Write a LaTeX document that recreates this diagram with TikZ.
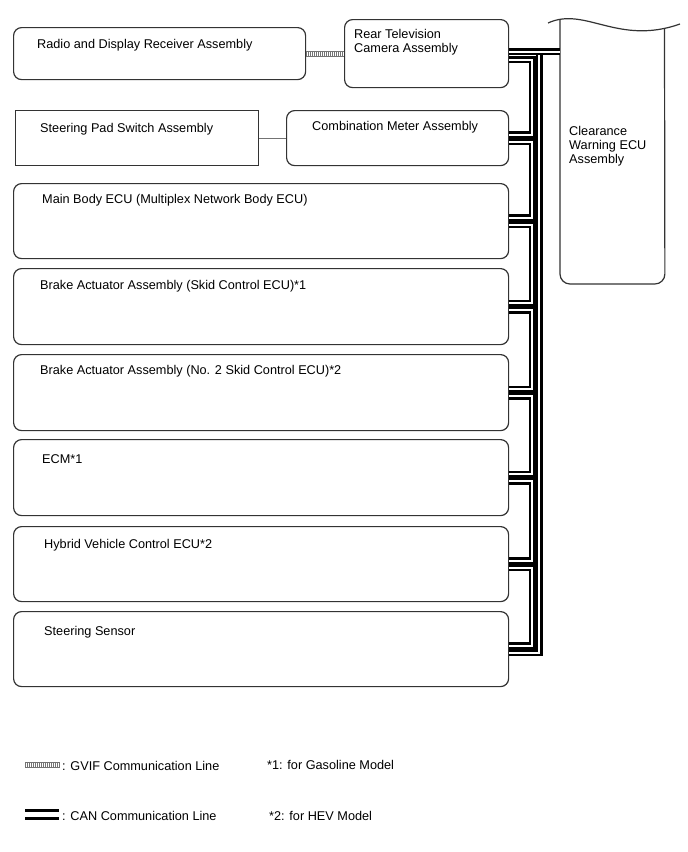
\documentclass[tikz,border=0pt]{standalone}
\usepackage{fontspec}
\setmainfont{Liberation Sans}

\tikzset{
  ecubox/.style={draw=black!80, line width=1.2pt, rounded corners=8pt, anchor=north west, inner sep=0pt},
  boxline/.style={draw=black!80, line width=1.2pt},
  lbl/.style={anchor=base west, inner sep=0pt, font=\fontsize{12.7}{14}\selectfont},
  can/.style={draw=black, line width=2.5pt, double=white, double distance=2pt},
  gvif/.style={draw=black!55, line width=5pt, dash pattern=on 0.8pt off 1.2pt,
    postaction={draw=black!55, solid, line width=0.6pt, transform canvas={yshift=2.6pt}},
    postaction={draw=black!55, solid, line width=0.6pt, transform canvas={yshift=-2.6pt}}},
  linkline/.style={draw=black!55, line width=1pt}
}

\begin{document}
\begin{tikzpicture}[x=1pt,y=-1pt]
\useasboundingbox (0,0) rectangle (688,852);

% boxes
\node[ecubox, minimum width=292pt, minimum height=52pt] (radio) at (13,27) {};
\node[ecubox, minimum width=164pt, minimum height=68pt] (rearcam) at (344,19) {};
\node[ecubox, rounded corners=0pt, minimum width=243pt, minimum height=55pt] (steerpad) at (15,110) {};
\node[ecubox, minimum width=222pt, minimum height=55pt] (combmeter) at (286,110) {};
\node[ecubox, minimum width=495pt, minimum height=75pt] (mainbody) at (13,183) {};
\node[ecubox, minimum width=495pt, minimum height=76pt] (brakea) at (13,268) {};
\node[ecubox, minimum width=495pt, minimum height=76pt] (brakeb) at (13,354) {};
\node[ecubox, minimum width=495pt, minimum height=76pt] (ecm) at (13,439) {};
\node[ecubox, minimum width=495pt, minimum height=75pt] (hybrid) at (13,526) {};
\node[ecubox, minimum width=495pt, minimum height=75pt] (steersens) at (13,611) {};

% clearance warning ECU, cut off at the top
\node[minimum width=104.5pt, minimum height=263pt, anchor=south west, inner sep=0pt] (clearance) at (560,284) {};
\draw[boxline, rounded corners=10pt] (560,20) -- (clearance.south west) -- (clearance.south east) -- (664.5,28.5);
\draw[boxline] (548,23) .. controls (585,6) and (618,46) .. (680,24);

% texts
\node[lbl] (radiotxt) at (37,48) {Radio and Display Receiver Assembly};
\node[lbl, anchor=north west, align=left] (rearcamtxt) at (354,29) {Rear Television\\Camera Assembly};
\node[lbl] (steerpadtxt) at (40,132) {Steering Pad Switch Assembly};
\node[lbl] (combmetertxt) at (312,130) {Combination Meter Assembly};
\node[lbl, anchor=north west, align=left] (clearancetxt) at (569,126) {Clearance\\Warning ECU\\Assembly};
\node[lbl] (mainbodytxt) at (42,203) {Main Body ECU (Multiplex Network Body ECU)};
\node[lbl] (brakeatxt) at (40,289) {Brake Actuator Assembly (Skid Control ECU)*1};
\node[lbl] (brakebtxt) at (40,374) {Brake Actuator Assembly (No. 2 Skid Control ECU)*2};
\node[lbl] (ecmtxt) at (42,463) {ECM*1};
\node[lbl] (hybridtxt) at (44,548) {Hybrid Vehicle Control ECU*2};
\node[lbl] (steersenstxt) at (44,635) {Steering Sensor};

% GVIF and plain link
\draw[gvif] (radio.east) -- (rearcam.west);
\draw[linkline] (steerpad.east) -- (combmeter.west);

% CAN bus
\coordinate (camtop) at ([yshift=2pt]rearcam.east);
\draw[can] ([xshift=30pt]camtop) |- ([yshift=-3.5pt]steersens.east);
\draw[can] (camtop) -- (camtop -| clearance.west);
\draw[can] ([yshift=-6pt]rearcam.east) -- ++(23,0) |- ([yshift=3.5pt]combmeter.east);
\draw[can] ([yshift=-3.5pt]combmeter.east) -- ++(23,0) |- ([yshift=3.5pt]mainbody.east);
\draw[can] ([yshift=-3.5pt]mainbody.east) -- ++(23,0) |- ([yshift=3.5pt]brakea.east);
\draw[can] ([yshift=-3.5pt]brakea.east) -- ++(23,0) |- ([yshift=3.5pt]brakeb.east);
\draw[can] ([yshift=-3.5pt]brakeb.east) -- ++(23,0) |- ([yshift=3.5pt]ecm.east);
\draw[can] ([yshift=-3.5pt]ecm.east) -- ++(23,0) |- ([yshift=3.5pt]hybrid.east);
\draw[can] ([yshift=-3.5pt]hybrid.east) -- ++(23,0) |- ([yshift=3.5pt]steersens.east);

% legend
\coordinate (gvifa) at (25,765);
\coordinate (gvifb) at (60,765);
\draw[gvif] (gvifa) -- (gvifb);
\coordinate (cana) at (25,814.5);
\coordinate (canb) at (59,814.5);
\draw[can, line width=3pt, double distance=5pt] (cana) -- (canb);
\node[lbl] (gviftxt) at (62,770) {: GVIF Communication Line};
\node[lbl] (note1) at (267,769) {*1: for Gasoline Model};
\node[lbl] (cantxt) at (62,820) {: CAN Communication Line};
\node[lbl] (note2) at (269,820) {*2: for HEV Model};

\end{tikzpicture}
\end{document}
